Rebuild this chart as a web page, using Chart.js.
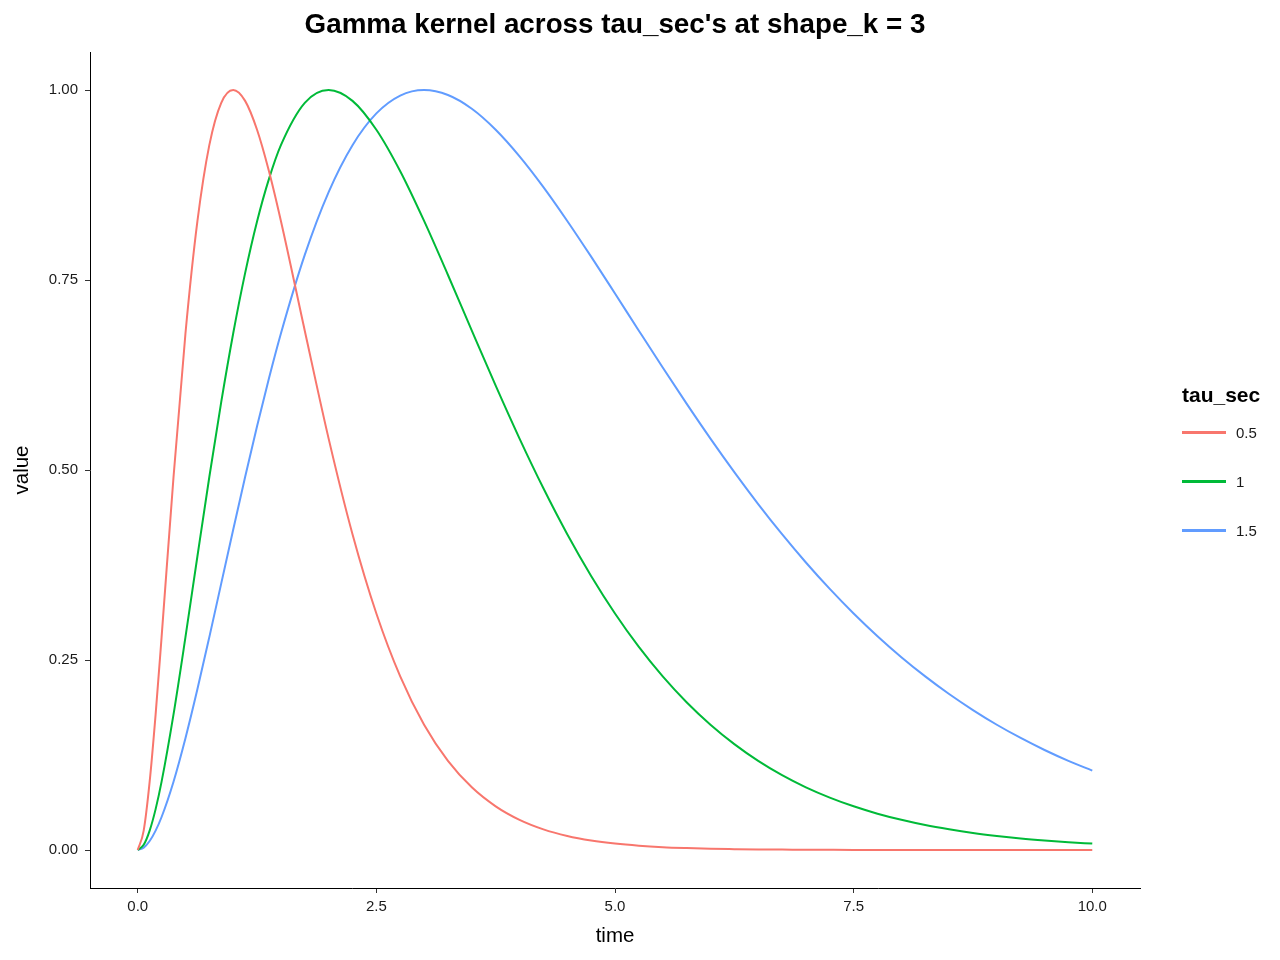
<!DOCTYPE html>
<html>
<head>
<meta charset="utf-8">
<script src="https://cdn.jsdelivr.net/npm/chart.js@4/dist/chart.umd.min.js"></script>
<style>
body{margin:0;background:#fff;font-family:"Liberation Sans",Arial,sans-serif;}
#contenedor{position:relative;width:1280px;height:960px;}
#grafica{position:absolute;left:0;top:0;}
#titulo{position:absolute;left:90px;width:1050px;top:9px;text-align:center;font-weight:bold;font-size:27.8px;line-height:30px;color:#000;white-space:nowrap;}
#leyenda-titulo{position:absolute;left:1182px;top:384px;font-weight:bold;font-size:21px;line-height:21px;color:#000;}
.item-leyenda{position:absolute;left:1182px;height:20px;display:flex;align-items:center;}
.linea-leyenda{width:44px;height:3px;margin-right:10px;}
.texto-leyenda{font-size:15px;line-height:15px;color:#1a1a1a;}
</style>
</head>
<body>
<div id="contenedor">
  <canvas id="grafica" width="1280" height="960"></canvas>
  <div id="titulo">Gamma kernel across tau_sec's at shape_k = 3</div>
  <div id="leyenda-titulo">tau_sec</div>
  <div id="leyenda"></div>
</div>
<script>
// tiempos muestreados (s), mas densos al inicio
var tiempos = [0,0.0625,0.125,0.1875,0.25,0.375,0.5,0.625,0.75,0.875,1,1.125,1.25,1.375,1.5,1.75,2,2.25,2.5,2.75,3,
  3.25,3.5,3.75,4,4.25,4.5,4.75,5,5.25,5.5,5.75,6,6.25,6.5,6.75,7,7.25,7.5,7.75,8,8.25,8.5,8.75,9,9.25,9.5,9.75,10];

var tau05 = [0,0.0255,0.0899,0.1785,0.2801,0.4908,0.6796,0.8270,0.9274,0.9831,1,0.9857,0.9477,0.8931,0.8277,0.6833,
  0.5413,0.4155,0.3112,0.2284,0.1648,0.1173,0.0825,0.0575,0.0397,0.0272,0.0185,0.0125,0.0084,0.0056,0.0037,0.0025,
  0.0016,0.0011,0.0007,0.0005,0.0003,0.0002,0.0001,0.0001,0,0,0,0,0,0,0,0,0];
var tau1 = [0,0.0068,0.0255,0.0538,0.0899,0.1785,0.2801,0.3862,0.4908,0.5896,0.6796,0.7590,0.8270,0.8830,0.9274,0.9831,
  1,0.9857,0.9477,0.8931,0.8277,0.7566,0.6833,0.6109,0.5413,0.4759,0.4155,0.3606,0.3112,0.2672,0.2284,0.1944,
  0.1648,0.1393,0.1173,0.0985,0.0825,0.0690,0.0575,0.0478,0.0397,0.0328,0.0272,0.0224,0.0185,0.0152,0.0125,0.0102,0.0084];
var tau15 = [0,0.0031,0.0118,0.0255,0.0434,0.0899,0.1471,0.2114,0.2801,0.3508,0.4215,0.4908,0.5575,0.6207,0.6796,0.7830,
  0.8657,0.9274,0.9692,0.9927,1,0.9934,0.9753,0.9477,0.9127,0.8722,0.8277,0.7807,0.7322,0.6833,0.6348,0.5873,
  0.5413,0.4972,0.4552,0.4155,0.3783,0.3435,0.3112,0.2813,0.2537,0.2284,0.2052,0.1841,0.1648,0.1474,0.1316,0.1173,0.1045];

var etiquetas = ['0.5','1','1.5'];
var colores = ['#F8766D','#00BA38','#619CFF'];
var ticksX = [0,2.5,5,7.5,10];
var ticksY = [0,0.25,0.5,0.75,1];

function armarPuntos(valores){
    var puntos = [];
    for (var i = 0; i < tiempos.length; i++){
        puntos.push({x: tiempos[i], y: valores[i]});
    }
    return puntos;
}

function crearLeyenda(){
    var leyenda = document.getElementById('leyenda');
    for (var i = 0; i < etiquetas.length; i++){
        var item = document.createElement('div');
        item.className = 'item-leyenda';
        item.style.top = (422 + i*49) + 'px';
        var linea = document.createElement('div');
        linea.className = 'linea-leyenda';
        linea.style.background = colores[i];
        var texto = document.createElement('span');
        texto.className = 'texto-leyenda';
        texto.textContent = etiquetas[i];
        item.appendChild(linea);
        item.appendChild(texto);
        leyenda.appendChild(item);
    }
}

var series = [tau05, tau1, tau15];
var datasets = [];
for (var i = 0; i < series.length; i++){
    datasets.push({
        label: etiquetas[i],
        data: armarPuntos(series[i]),
        borderColor: colores[i],
        backgroundColor: colores[i],
        borderWidth: 2,
        pointRadius: 0,
        cubicInterpolationMode: 'monotone',
        fill: false
    });
}

var fuente = '"Liberation Sans", Arial, sans-serif';

var config = {
    type: 'line',
    data: { datasets: datasets },
    options: {
        responsive: false,
        animation: false,
        layout: { padding: { top: 52, right: 140, left: 0, bottom: 0 } },
        scales: {
            x: {
                type: 'linear',
                min: -0.5,
                max: 10.5,
                afterBuildTicks: function(scale){
                    scale.ticks = ticksX.map(function(v){ return {value: v}; });
                },
                afterFit: function(scale){ scale.height = 72; },
                grid: { drawOnChartArea: false, drawTicks: true, tickLength: 5, color: '#333' },
                border: { display: true, color: '#000', width: 1 },
                ticks: {
                    autoSkip: false,
                    maxRotation: 0,
                    padding: 5,
                    color: '#1a1a1a',
                    font: { family: fuente, size: 15 },
                    callback: function(v){ return Number(v).toFixed(1); }
                },
                title: {
                    display: true,
                    text: 'time',
                    color: '#000',
                    font: { family: fuente, size: 20.5 },
                    padding: { top: 0, bottom: 11 }
                }
            },
            y: {
                type: 'linear',
                min: -0.05,
                max: 1.05,
                afterBuildTicks: function(scale){
                    scale.ticks = ticksY.map(function(v){ return {value: v}; });
                },
                afterFit: function(scale){ scale.width = 90; },
                grid: { drawOnChartArea: false, drawTicks: true, tickLength: 5, color: '#333' },
                border: { display: true, color: '#000', width: 1 },
                ticks: {
                    autoSkip: false,
                    padding: 7,
                    color: '#1a1a1a',
                    font: { family: fuente, size: 15 },
                    callback: function(v){ return Number(v).toFixed(2); }
                },
                title: {
                    display: true,
                    text: 'value',
                    color: '#000',
                    font: { family: fuente, size: 20.5 },
                    padding: { top: 10, bottom: 0 }
                }
            }
        },
        plugins: {
            legend: { display: false },
            title: { display: false },
            tooltip: { enabled: false }
        }
    }
};

crearLeyenda();
var miGrafica = new Chart(document.getElementById('grafica').getContext('2d'), config);
</script>
</body>
</html>
